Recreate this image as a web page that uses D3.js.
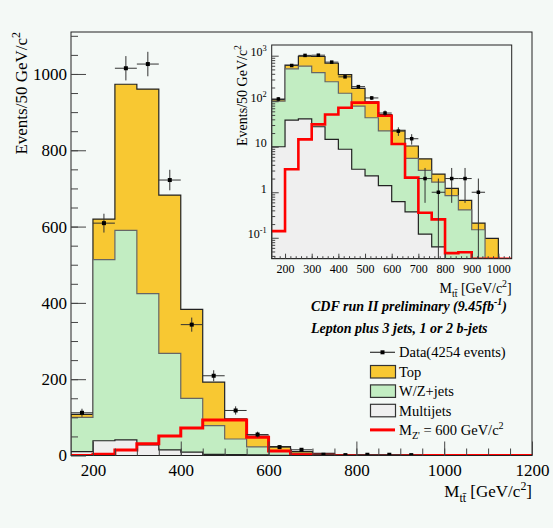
<!DOCTYPE html>
<html>
<head>
<meta charset="utf-8">
<script src="https://cdn.jsdelivr.net/npm/d3@7"></script>
<style>
body { margin: 0; background: #f4f9f6; }
svg text { font-family: "Liberation Serif", "Times New Roman", serif; fill: #000; }
</style>
</head>
<body>
<svg id="chart" width="553" height="528"></svg>
<script>
// bins of 50 GeV/c^2 (low edges)
var binLow = [150, 200, 250, 300, 350, 400, 450, 500, 550, 600, 650,
              700, 750, 800, 850, 900, 950, 1000, 1050, 1100, 1150];
var binWidth = 50;

// stacked backgrounds, events per bin
var multijet = [10, 38.6, 41, 27.5, 14.5, 8.8, 3.2, 2.3, 1.4, 0.62, 0.37,
                0.12, 0.063, 0, 0, 0, 0, 0, 0, 0, 0];
var wzjets   = [90, 475, 549, 397, 253, 141, 75, 41, 21, 10.9, 5.2,
                2.9, 1.6, 0.84, 0.41, 0.15, 0, 0, 0, 0, 0];
var topPair  = [8, 106, 383, 536, 415, 233, 114, 53, 28.5, 11.5, 4.8,
                2.4, 0.85, 0.38, 0.25, 0.06, 0.097, 0, 0, 0, 0];
// Z' signal, M = 600 GeV/c^2 (not stacked)
var zprime   = [0.14, 3.2, 14.5, 31, 51, 72, 93, 93, 48, 11.5, 2.1,
                0.355, 0.254, 0.046, 0.048, 0.03, 0.03, 0, 0, 0, 0];
// observed events (first 16 bins)
var dataCounts = [112, 609, 1015, 1026, 722, 343, 209, 118, 55, 22, 15, 2, 1, 2, 2, 1];

var mainXTicks = [200, 400, 600, 800, 1000, 1200];
var mainYTicks = [0, 200, 400, 600, 800, 1000];
var insetXTicks = [200, 300, 400, 500, 600, 700, 800, 900, 1000];
var insetYTicks = [0.1, 1, 10, 100, 1000];
var insetYLabels = [["10", "-1"], ["1", ""], ["10", ""], ["10", "2"], ["10", "3"]];

var legendItems = [
    {kind: 'data', label: [{t: 'Data(4254 events)'}]},
    {kind: 'box', fill: '#f8c832', label: [{t: 'Top'}]},
    {kind: 'box', fill: '#c2edc2', label: [{t: 'W/Z+jets'}]},
    {kind: 'box', fill: '#efefef', label: [{t: 'Multijets'}]},
    {kind: 'line', label: [{t: 'M'}, {t: "Z'", sub: true}, {t: ' = 600 GeV/c'}, {t: '2', sup: true}]}
];

var colors = {top: '#f8c832', wz: '#c2edc2', mj: '#efefef', sig: '#ff0000'};

var svg = d3.select('#chart');

// rows for d3.stack
var rows = binLow.map((lo, i) => ({lo: lo, multijet: multijet[i], wzjets: wzjets[i], top: topPair[i]}));
var stacked = d3.stack().keys(['multijet', 'wzjets', 'top'])(rows);

function rich(sel, parts, size) {
    var shift = 0;
    parts.forEach(p => {
        var target = p.sup ? -0.42 * size : (p.sub ? 0.3 * size : 0);
        sel.append('tspan')
            .attr('dy', target - shift)
            .attr('font-size', (p.sup || p.sub) ? size * 0.7 : size)
            .text(p.t);
        shift = target;
    });
}

function stepPoints(values) {
    var pts = values.map((v, i) => ({x: binLow[i], v: v}));
    pts.push({x: binLow[binLow.length - 1] + binWidth, v: values[values.length - 1]});
    return pts;
}

function drawPanel(g, x, y, floorY, clipId, opts) {
    var yv = v => (opts.log && v <= y.domain()[0]) ? floorY : y(v);
    var area = d3.area().curve(d3.curveStepAfter)
        .x(d => x(d.x)).y0(floorY).y1(d => yv(d.v));
    var line = d3.line().curve(d3.curveStepAfter)
        .x(d => x(d.x)).y(d => yv(d.v));

    var body = g.append('g').attr('clip-path', 'url(#' + clipId + ')');

    // total first, then cover with lower parts of the stack
    var layers = [
        {vals: stacked[2].map(d => d[1]), fill: colors.top, stroke: '#222'},
        {vals: stacked[1].map(d => d[1]), fill: colors.wz, stroke: '#666'},
        {vals: stacked[0].map(d => d[1]), fill: colors.mj, stroke: '#222'}
    ];
    layers.forEach(l => {
        body.append('path')
            .attr('d', area(stepPoints(l.vals)))
            .attr('fill', l.fill)
            .attr('stroke', l.stroke)
            .attr('stroke-width', 1.2);
    });

    body.append('path')
        .attr('d', line(stepPoints(zprime)))
        .attr('fill', 'none')
        .attr('stroke', colors.sig)
        .attr('stroke-width', opts.sigWidth);

    // data with errors
    dataCounts.forEach((n, i) => {
        var cx = x(binLow[i] + binWidth / 2);
        var e = Math.sqrt(n);
        var lo = n - e;
        body.append('line')
            .attr('x1', x(binLow[i])).attr('x2', x(binLow[i] + binWidth))
            .attr('y1', yv(n)).attr('y2', yv(n))
            .attr('stroke', '#333').attr('stroke-width', 1);
        body.append('line')
            .attr('x1', cx).attr('x2', cx)
            .attr('y1', yv(n + e)).attr('y2', lo > 0 ? yv(lo) : floorY)
            .attr('stroke', '#333').attr('stroke-width', 1);
        body.append('rect')
            .attr('x', cx - opts.mk / 2).attr('y', yv(n) - opts.mk / 2)
            .attr('width', opts.mk).attr('height', opts.mk)
            .attr('fill', '#000');
    });
}

function styleAxis(ax, size) {
    ax.select('.domain').remove();
    ax.selectAll('line').attr('stroke', '#444');
    ax.selectAll('text').attr('font-size', size)
        .attr('font-family', '"Liberation Serif", serif').attr('fill', '#000');
}

// ---------------- main panel ----------------
var mx = d3.scaleLinear().domain([150, 1200]).range([71, 532]);
var my = d3.scaleLinear().domain([0, 1110]).range([455.5, 32]);

svg.append('clipPath').attr('id', 'clipMain').append('rect')
    .attr('x', 71).attr('y', 32).attr('width', 461).attr('height', 423.5);

var main = svg.append('g');
drawPanel(main, mx, my, my(0), 'clipMain', {log: false, sigWidth: 3, mk: 4});

main.append('rect')
    .attr('x', 71).attr('y', 32).attr('width', 461).attr('height', 423.5)
    .attr('fill', 'none').attr('stroke', '#222').attr('stroke-width', 1);

var plain = d3.format('d');
var xAxisMinor = d3.axisBottom(mx).tickValues(d3.range(200, 1200, 50)).tickSize(-7).tickFormat('');
var xAxis = d3.axisBottom(mx).tickValues(mainXTicks).tickSize(-14).tickPadding(8.5).tickFormat(plain);
var yAxisMinor = d3.axisLeft(my).tickValues(d3.range(50, 1101, 50)).tickSize(-7).tickFormat('');
var yAxis = d3.axisLeft(my).tickValues(mainYTicks).tickSize(-15).tickPadding(4).tickFormat(plain);

[[xAxisMinor, 'translate(0,455.5)'], [xAxis, 'translate(0,455.5)'],
 [yAxisMinor, 'translate(71,0)'], [yAxis, 'translate(71,0)']].forEach(a => {
    styleAxis(main.append('g').attr('transform', a[1]).call(a[0]), 17);
});

var myTitle = main.append('text')
    .attr('transform', 'translate(27,32) rotate(-90)')
    .attr('text-anchor', 'end');
rich(myTitle, [{t: 'Events/50 GeV/c'}, {t: '2', sup: true}], 17);

var mxTitle = main.append('text')
    .attr('x', 532).attr('y', 497).attr('text-anchor', 'end');
rich(mxTitle, [{t: 'M'}, {t: 'tt\u0304', sub: true}, {t: ' [GeV/c'}, {t: '2', sup: true}, {t: ']'}], 17);

// ---------------- inset panel ----------------
var ix = d3.scaleLinear().domain([150, 1050]).range([271.7, 511.7]);
var iy = d3.scaleLog().domain([0.0347, 1718]).range([258.7, 45]);

svg.append('clipPath').attr('id', 'clipInset').append('rect')
    .attr('x', 271.7).attr('y', 45).attr('width', 240).attr('height', 213.7);

var inset = svg.append('g');
drawPanel(inset, ix, iy, 258.7, 'clipInset', {log: true, sigWidth: 2.6, mk: 3.5});

inset.append('rect')
    .attr('x', 271.7).attr('y', 45).attr('width', 240).attr('height', 213.7)
    .attr('fill', 'none').attr('stroke', '#222').attr('stroke-width', 1);

var iyMinorVals = [];
[0.01, 0.1, 1, 10, 100, 1000].forEach(dec => {
    [2, 3, 4, 5, 6, 7, 8, 9].forEach(m => {
        var v = dec * m;
        if (v > 0.0347 && v < 1718) iyMinorVals.push(v);
    });
});

var ixAxisMinor = d3.axisBottom(ix).tickValues(d3.range(160, 1050, 20)).tickSize(-2.5).tickFormat('');
var ixAxis = d3.axisBottom(ix).tickValues(insetXTicks).tickSize(-5).tickPadding(5.5).tickFormat(plain);
var iyAxisMinor = d3.axisLeft(iy).tickValues(iyMinorVals).tickSize(-3.5).tickFormat('');
var iyAxis = d3.axisLeft(iy).tickValues(insetYTicks).tickSize(-7).tickPadding(5)
    .tickFormat((d, i) => '');

[[ixAxisMinor, 'translate(0,258.7)'], [ixAxis, 'translate(0,258.7)'],
 [iyAxisMinor, 'translate(271.7,0)']].forEach(a => {
    styleAxis(inset.append('g').attr('transform', a[1]).call(a[0]), 12);
});
var iyG = inset.append('g').attr('transform', 'translate(271.7,0)').call(iyAxis);
styleAxis(iyG, 12);
// log labels with superscripts
iyG.selectAll('.tick text').each(function (d, i) {
    var t = d3.select(this);
    var parts = [{t: insetYLabels[i][0]}];
    if (insetYLabels[i][1]) parts.push({t: insetYLabels[i][1], sup: true});
    rich(t, parts, 12);
});

var iyTitle = inset.append('text')
    .attr('transform', 'translate(246.5,45) rotate(-90)')
    .attr('text-anchor', 'end');
rich(iyTitle, [{t: 'Events/50 GeV/c'}, {t: '2', sup: true}], 14);

var ixTitle = inset.append('text')
    .attr('x', 511.7).attr('y', 293).attr('text-anchor', 'end');
rich(ixTitle, [{t: 'M'}, {t: 'tt\u0304', sub: true}, {t: ' [GeV/c'}, {t: '2', sup: true}, {t: ']'}], 14);

// ---------------- labels and legend ----------------
var cdf = svg.append('text').attr('x', 311).attr('y', 311)
    .attr('font-weight', 'bold').attr('font-style', 'italic');
rich(cdf, [{t: 'CDF run II preliminary (9.45fb'}, {t: '-1', sup: true}, {t: ')'}], 14);

svg.append('text').attr('x', 311).attr('y', 333.3)
    .attr('font-weight', 'bold').attr('font-style', 'italic')
    .attr('font-size', 14)
    .text('Lepton plus 3 jets, 1 or 2 b-jets');

var leg = svg.append('g');
legendItems.forEach((item, i) => {
    var cy = 352.3 + i * 19.4;
    if (item.kind === 'data') {
        leg.append('line').attr('x1', 370).attr('x2', 395).attr('y1', cy).attr('y2', cy)
            .attr('stroke', '#333').attr('stroke-width', 1.2);
        leg.append('rect').attr('x', 380.5).attr('y', cy - 2).attr('width', 4).attr('height', 4).attr('fill', '#000');
    } else if (item.kind === 'box') {
        leg.append('rect').attr('x', 370.5).attr('y', cy - 6.2).attr('width', 25).attr('height', 12.5)
            .attr('fill', item.fill).attr('stroke', '#333').attr('stroke-width', 1.2);
    } else {
        leg.append('line').attr('x1', 370).attr('x2', 395).attr('y1', cy).attr('y2', cy)
            .attr('stroke', colors.sig).attr('stroke-width', 3);
    }
    var t = leg.append('text').attr('x', 399).attr('y', cy + 5);
    rich(t, item.label, 14.5);
});
</script>
</body>
</html>
